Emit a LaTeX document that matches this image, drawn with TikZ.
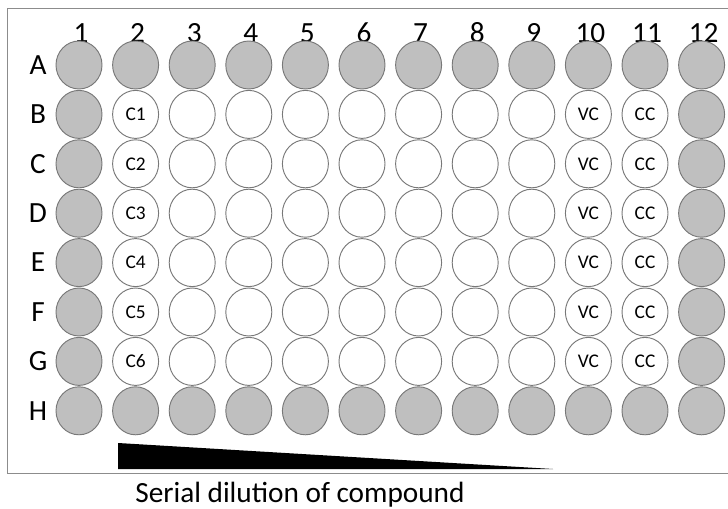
\documentclass[tikz,border=0pt]{standalone}
\usepackage{fontspec}
\setmainfont{Carlito}
\usetikzlibrary{shapes.geometric}
\definecolor{wellgray}{RGB}{191,191,191}
\definecolor{rimgray}{RGB}{120,120,120}
\definecolor{framegray}{RGB}{140,140,140}

\begin{document}
\begin{tikzpicture}[x=0.03cm,y=-0.03cm,
  well/.style={ellipse,draw=rimgray,line width=0.8pt,minimum width=1.38cm,minimum height=1.44cm,inner sep=0pt},
  edgewell/.style={well,fill=wellgray},
  welltext/.style={font=\fontsize{16.5}{16.5}\selectfont},
  rowlab/.style={font=\fontsize{25}{25}\selectfont},
  collab/.style={font=\fontsize{25}{25}\selectfont}]
  \useasboundingbox (0,0) rectangle (728,509);
  % plate frame
  \draw[framegray,line width=0.8pt] (7,8) rectangle (745,473);
  % column numbers
  \foreach \c in {1,...,12} {
    \node[collab] (col\c) at ({81+(\c-1)*56.6},33) {\c};}
  % rows of wells
  \foreach \r [count=\i] in {A,B,C,D,E,F,G,H} {
    \node[rowlab] (row\r) at (38,{65+(\i-1)*49.4}) {\r};
    \foreach \c in {1,...,12} {
      \ifnum\i=1 \def\wst{edgewell}\else
      \ifnum\i=8 \def\wst{edgewell}\else
      \ifnum\c=1 \def\wst{edgewell}\else
      \ifnum\c=12 \def\wst{edgewell}\else
      \def\wst{well}\fi\fi\fi\fi
      \node[\wst] (w\r\c) at ({79+(\c-1)*56.6},{65+(\i-1)*49.4}) {};}}
  % sample labels
  \foreach \r [count=\k] in {B,C,D,E,F,G} {
    \node[welltext] at (w\r2) {C\k};
    \node[welltext] at (w\r10) {VC};
    \node[welltext] at (w\r11) {CC};}
  % dilution wedge
  \coordinate (wedgeL) at (118,443);
  \coordinate (wedgeR) at (553,469);
  \fill (wedgeL) -- (wedgeR) -- (wedgeL |- wedgeR) -- cycle;
  \node[font=\fontsize{25}{25}\selectfont] (dil) at (300,495) {Serial dilution of compound};
\end{tikzpicture}
\end{document}
